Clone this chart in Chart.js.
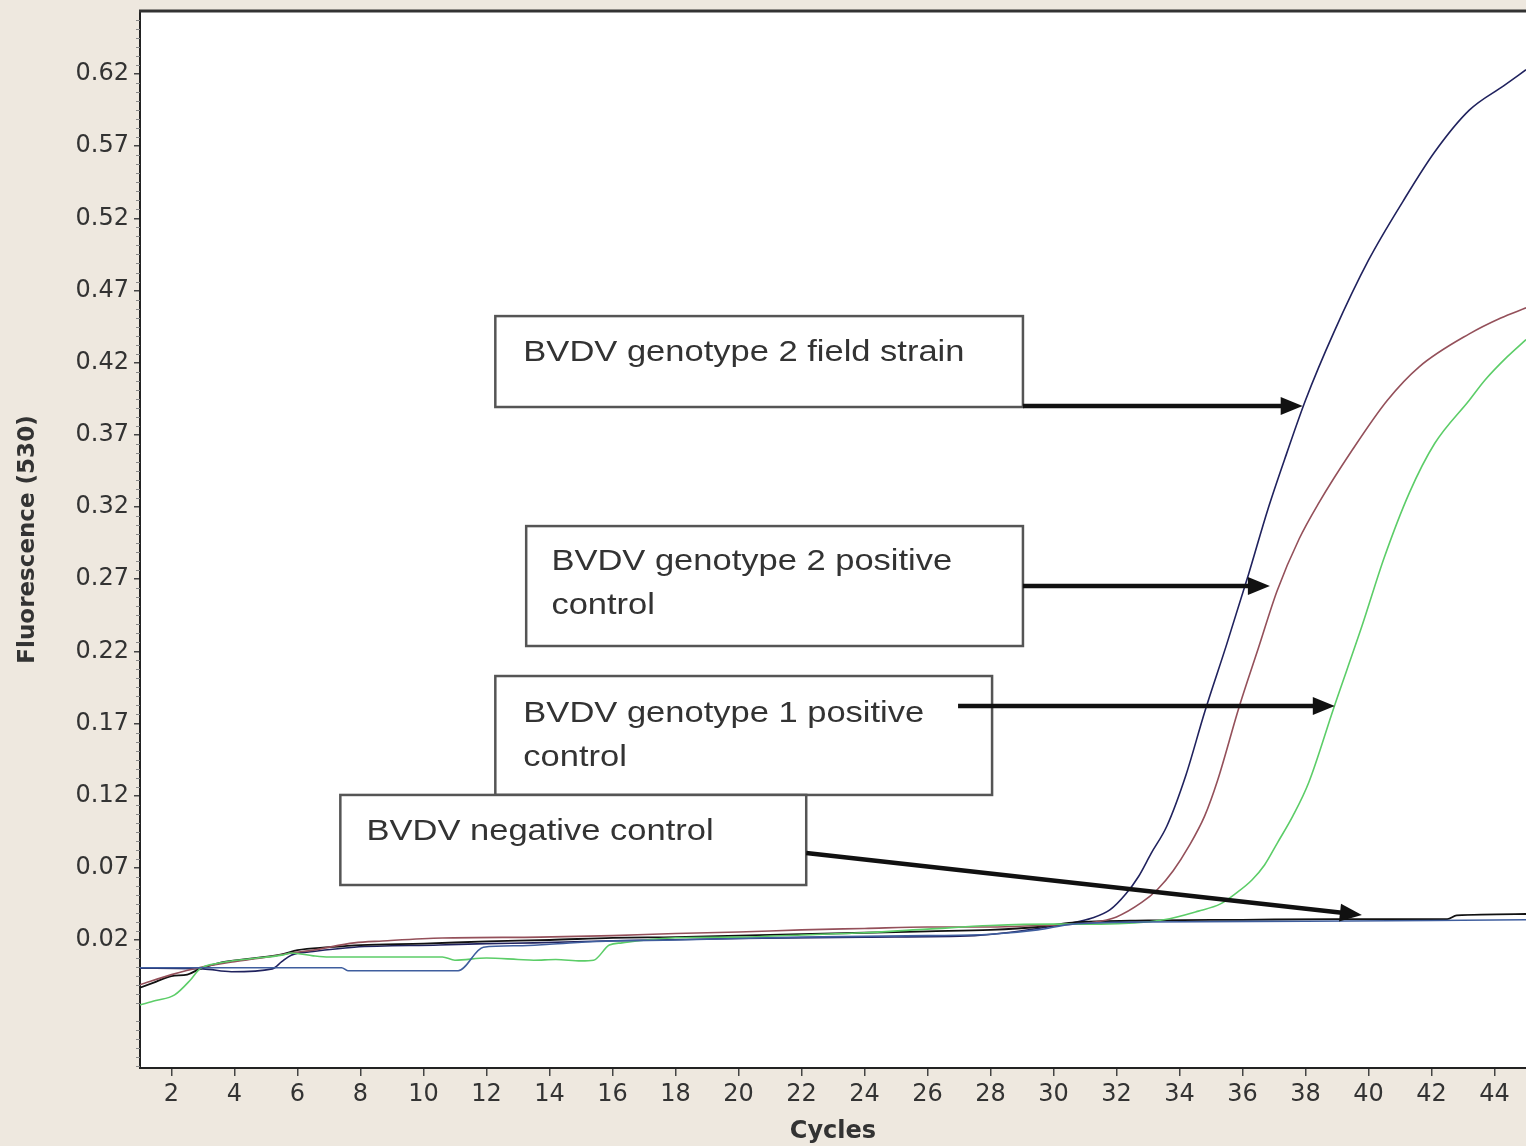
<!DOCTYPE html>
<html><head><meta charset="utf-8">
<script src="https://cdn.jsdelivr.net/npm/chart.js@4.4.1/dist/chart.umd.min.js"></script>
<style>
html,body{margin:0;padding:0;background:#eee8df;}
canvas{display:block;}
</style>
</head><body>
<canvas id="c" width="1526" height="1146"></canvas>
<script>
// ---------- DATA ----------
const xTickValues = [2,4,6,8,10,12,14,16,18,20,22,24,26,28,30,32,34,36,38,40,42,44];
const yTickValues = [0.02,0.07,0.12,0.17,0.22,0.27,0.32,0.37,0.42,0.47,0.52,0.57,0.62];

const fieldCycles = [1,3.0,3.9,5.2,5.5,5.8,6.5,7.8,10.5,12,13.5,16,20,24,27.5,28.5,29.5,30.6,31.2,31.8,32.3,32.7,33.1,33.6,34.2,34.8,35.5,36.2,36.8,37.4,38.0,38.9,40.0,41.1,42.1,43.2,44.3,45.0];
const fieldValues = [0.0005,0.0,-0.002,0.0,0.005,0.0095,0.012,0.015,0.0165,0.0175,0.018,0.0195,0.021,0.022,0.023,0.025,0.028,0.032,0.035,0.041,0.052,0.064,0.080,0.099,0.134,0.178,0.225,0.274,0.318,0.357,0.394,0.441,0.491,0.532,0.566,0.595,0.612,0.623];

const g2PosCycles = [1,2,2.9,4,5,5.8,6.5,7.8,8.7,10.6,13.7,16,18,20,22,24,26,28,29.5,30.6,31.2,32.0,32.8,33.3,33.8,34.3,34.8,35.2,35.9,36.5,37.1,37.8,38.4,39.5,40.6,41.6,43.2,44.2,45.0];
const g2PosValues = [-0.011,-0.004,0.001,0.005,0.008,0.011,0.013,0.018,0.0193,0.0214,0.022,0.023,0.0245,0.0255,0.027,0.028,0.029,0.029,0.030,0.031,0.032,0.036,0.046,0.055,0.068,0.085,0.106,0.130,0.182,0.222,0.262,0.298,0.322,0.360,0.394,0.417,0.440,0.451,0.458];

const g1PosCycles = [1,1.5,2.1,2.6,2.9,3.5,4.5,5.5,5.8,6.5,7,10.6,11,12,13,13.5,14.2,15,15.4,15.9,16.3,18,20,22,24,26,28,30,31.5,33.5,34.6,35.3,35.8,36.3,36.7,37.1,37.6,38.1,38.9,39.8,40.5,41.3,42.1,43.2,43.7,44.4,45];
const g1PosValues = [-0.025,-0.022,-0.018,-0.0077,0.0,0.004,0.007,0.0095,0.011,0.009,0.0082,0.0082,0.006,0.0075,0.0065,0.006,0.0065,0.0055,0.006,0.0165,0.018,0.0215,0.022,0.0235,0.025,0.0275,0.030,0.031,0.031,0.034,0.040,0.045,0.0525,0.0616,0.072,0.087,0.106,0.129,0.181,0.238,0.285,0.330,0.364,0.394,0.408,0.424,0.436];

const negCycles = [1,1.5,2,2.5,2.9,3.5,4.5,5.5,6.0,7.0,8.0,10,12,14,16,18,20,22,24,26,28,29.5,30.6,33,36,39,42.5,42.8,45];
const negValues = [-0.013,-0.009,-0.005,-0.004,0.0,0.004,0.007,0.010,0.013,0.015,0.0165,0.0175,0.019,0.020,0.0215,0.022,0.023,0.024,0.025,0.026,0.027,0.029,0.032,0.0335,0.034,0.0345,0.0345,0.037,0.038];

const trace5Cycles = [1,7.4,7.6,11.1,11.9,13,14,15.5,18,20,22,24,26,28,29.5,30.6,33,38,42,45];
const trace5Values = [0.0008,0.0008,-0.0013,-0.0013,0.015,0.016,0.017,0.019,0.020,0.021,0.022,0.0225,0.023,0.024,0.027,0.031,0.0325,0.033,0.0335,0.034];

const annotationLines = [
  ["BVDV genotype 2 field strain"],
  ["BVDV genotype 2 positive","control"],
  ["BVDV genotype 1 positive","control"],
  ["BVDV negative control"]
];

// ---------- LAYOUT of annotations (data coordinates) ----------
const annoLayout = [
  {box:[12.28,29.03,0.4523,0.3893], textX:13.17, baselines:[0.4212]},
  {box:[13.26,29.03,0.3068,0.2237], textX:14.06, baselines:[0.2764,0.2459]},
  {box:[12.28,28.05,0.2029,0.1205], textX:13.17, baselines:[0.1710,0.1406]},
  {box:[7.36,22.15,0.1205,0.0581],  textX:8.19,  baselines:[0.0893]}
];
const arrowLayout = [
  [29.03,0.390,37.91,0.390],
  [29.03,0.2653,36.87,0.2653],
  [26.97,0.1821,38.93,0.1821],
  [22.15,0.0803,39.79,0.0373]
];

const pts = (xs, ys) => xs.map((x,i)=>({x:x, y:ys[i]}));

const bgPlugin = {
  id:'bg',
  beforeDraw(chart){
    const {ctx, chartArea:a} = chart;
    ctx.save();
    ctx.fillStyle = '#eee8df';
    ctx.fillRect(0,0,chart.width,chart.height);
    ctx.fillStyle = '#ffffff';
    ctx.fillRect(a.left,a.top,a.right-a.left,a.bottom-a.top);
    ctx.restore();
  },
  afterDraw(chart){
    const {ctx, chartArea:a, scales:{y}} = chart;
    ctx.save();
    ctx.strokeStyle = '#333';
    ctx.lineWidth = 3;
    ctx.beginPath(); ctx.moveTo(a.left-1, a.top); ctx.lineTo(chart.width, a.top); ctx.stroke();
    ctx.strokeStyle = '#888';
    ctx.lineWidth = 1;
    const step = 0.05/8;
    for (let k=-20;k<=110;k++){
      const v = 0.02 + k*step;
      if (v < y.min || v > y.max) continue;
      if (k % 8 === 0) continue;
      const py = Math.round(y.getPixelForValue(v))+0.5;
      ctx.beginPath(); ctx.moveTo(a.left-4, py); ctx.lineTo(a.left, py); ctx.stroke();
    }
    ctx.restore();
  }
};

const annoPlugin = {
  id:'anno',
  afterDatasetsDraw(chart){
    const {ctx, scales:{x,y}} = chart;
    ctx.save();
    const sx = 1.15;
    annoLayout.forEach((a,i)=>{
      const x1=x.getPixelForValue(a.box[0]), x2=x.getPixelForValue(a.box[1]);
      const y1=y.getPixelForValue(a.box[2]), y2=y.getPixelForValue(a.box[3]);
      ctx.fillStyle='#ffffff';
      ctx.fillRect(x1,y1,x2-x1,y2-y1);
      ctx.strokeStyle='#555';
      ctx.lineWidth=2.5;
      ctx.strokeRect(x1,y1,x2-x1,y2-y1);
      ctx.fillStyle='#333';
      ctx.font='30px "Liberation Sans", Arial, sans-serif';
      ctx.textAlign='left';
      ctx.textBaseline='alphabetic';
      annotationLines[i].forEach((t,j)=>{
        const tx = x.getPixelForValue(a.textX), ty = y.getPixelForValue(a.baselines[j]);
        ctx.save();
        ctx.translate(tx, ty);
        ctx.scale(sx, 1);
        ctx.fillText(t, 0, 0);
        ctx.restore();
      });
    });
    ctx.strokeStyle='#111'; ctx.fillStyle='#111'; ctx.lineWidth=4.5; ctx.lineCap='butt';
    arrowLayout.forEach(r=>{
      const sx0=x.getPixelForValue(r[0]), sy=y.getPixelForValue(r[1]);
      const ex=x.getPixelForValue(r[2]), ey=y.getPixelForValue(r[3]);
      const ang=Math.atan2(ey-sy, ex-sx0);
      const hl=22, hw=9;
      const bx=ex-hl*Math.cos(ang), by=ey-hl*Math.sin(ang);
      ctx.beginPath(); ctx.moveTo(sx0,sy); ctx.lineTo(bx+2*Math.cos(ang),by+2*Math.sin(ang)); ctx.stroke();
      ctx.beginPath();
      ctx.moveTo(ex,ey);
      ctx.lineTo(bx - hw*Math.sin(ang), by + hw*Math.cos(ang));
      ctx.lineTo(bx + hw*Math.sin(ang), by - hw*Math.cos(ang));
      ctx.closePath(); ctx.fill();
    });
    ctx.restore();
  }
};

const mk = (label, xs, ys, color, w) => ({
  label, data: pts(xs, ys), borderColor: color, backgroundColor: color,
  borderWidth: w, pointRadius: 0, fill: false, cubicInterpolationMode: 'monotone'
});

new Chart(document.getElementById('c'), {
  type: 'line',
  data: {
    datasets: [
      mk('Trace 5', trace5Cycles, trace5Values, '#3f5e9e', 1.6),
      mk('BVDV genotype 1 positive control', g1PosCycles, g1PosValues, '#5ccd68', 1.6),
      mk('BVDV genotype 2 positive control', g2PosCycles, g2PosValues, '#94505a', 1.6),
      mk('BVDV negative control', negCycles, negValues, '#111111', 1.8),
      mk('BVDV genotype 2 field strain', fieldCycles, fieldValues, '#20225e', 1.6)
    ]
  },
  options: {
    responsive: false,
    devicePixelRatio: 1,
    animation: false,
    layout: { padding: { top: 11, right: 0, left: 0, bottom: 0 } },
    plugins: { legend: { display: false }, tooltip: { enabled: false } },
    scales: {
      x: {
        type: 'linear', min: 1, max: 45,
        afterBuildTicks: s => { s.ticks = xTickValues.map(v=>({value:v})); },
        afterFit: s => { s.height = 78; s.paddingLeft = 0; s.paddingRight = 0; },
        ticks: { color: '#333', font: { family: '"DejaVu Sans", Verdana, sans-serif', size: 24 }, padding: 4, maxRotation: 0, autoSkip: false, callback: v => String(v) },
        grid: { drawOnChartArea: false, drawTicks: true, tickLength: 8, color: '#444', lineWidth: 1.5 },
        border: { display: true, color: '#222', width: 2 },
        title: { display: true, text: 'Cycles', color: '#333', font: { family: '"DejaVu Sans", Verdana, sans-serif', size: 24, weight: 'bold' }, padding: { top: 0, bottom: 0 } }
      },
      y: {
        type: 'linear', min: -0.0687, max: 0.6637,
        afterBuildTicks: s => { s.ticks = yTickValues.map(v=>({value:v})); },
        afterFit: s => { s.width = 140; s.paddingTop = 0; s.paddingBottom = 0; },
        ticks: { color: '#333', font: { family: '"DejaVu Sans", Verdana, sans-serif', size: 24 }, padding: 5, autoSkip: false, callback: v => Number(v).toFixed(2) },
        grid: { drawOnChartArea: false, drawTicks: true, tickLength: 6, color: '#444', lineWidth: 1.5 },
        border: { display: true, color: '#222', width: 2 },
        title: { display: true, text: 'Fluorescence (530)', color: '#333', font: { family: '"DejaVu Sans", Verdana, sans-serif', size: 23, weight: 'bold' }, padding: { top: 14, bottom: 0 } }
      }
    }
  },
  plugins: [bgPlugin, annoPlugin]
});
</script>
</body></html>
